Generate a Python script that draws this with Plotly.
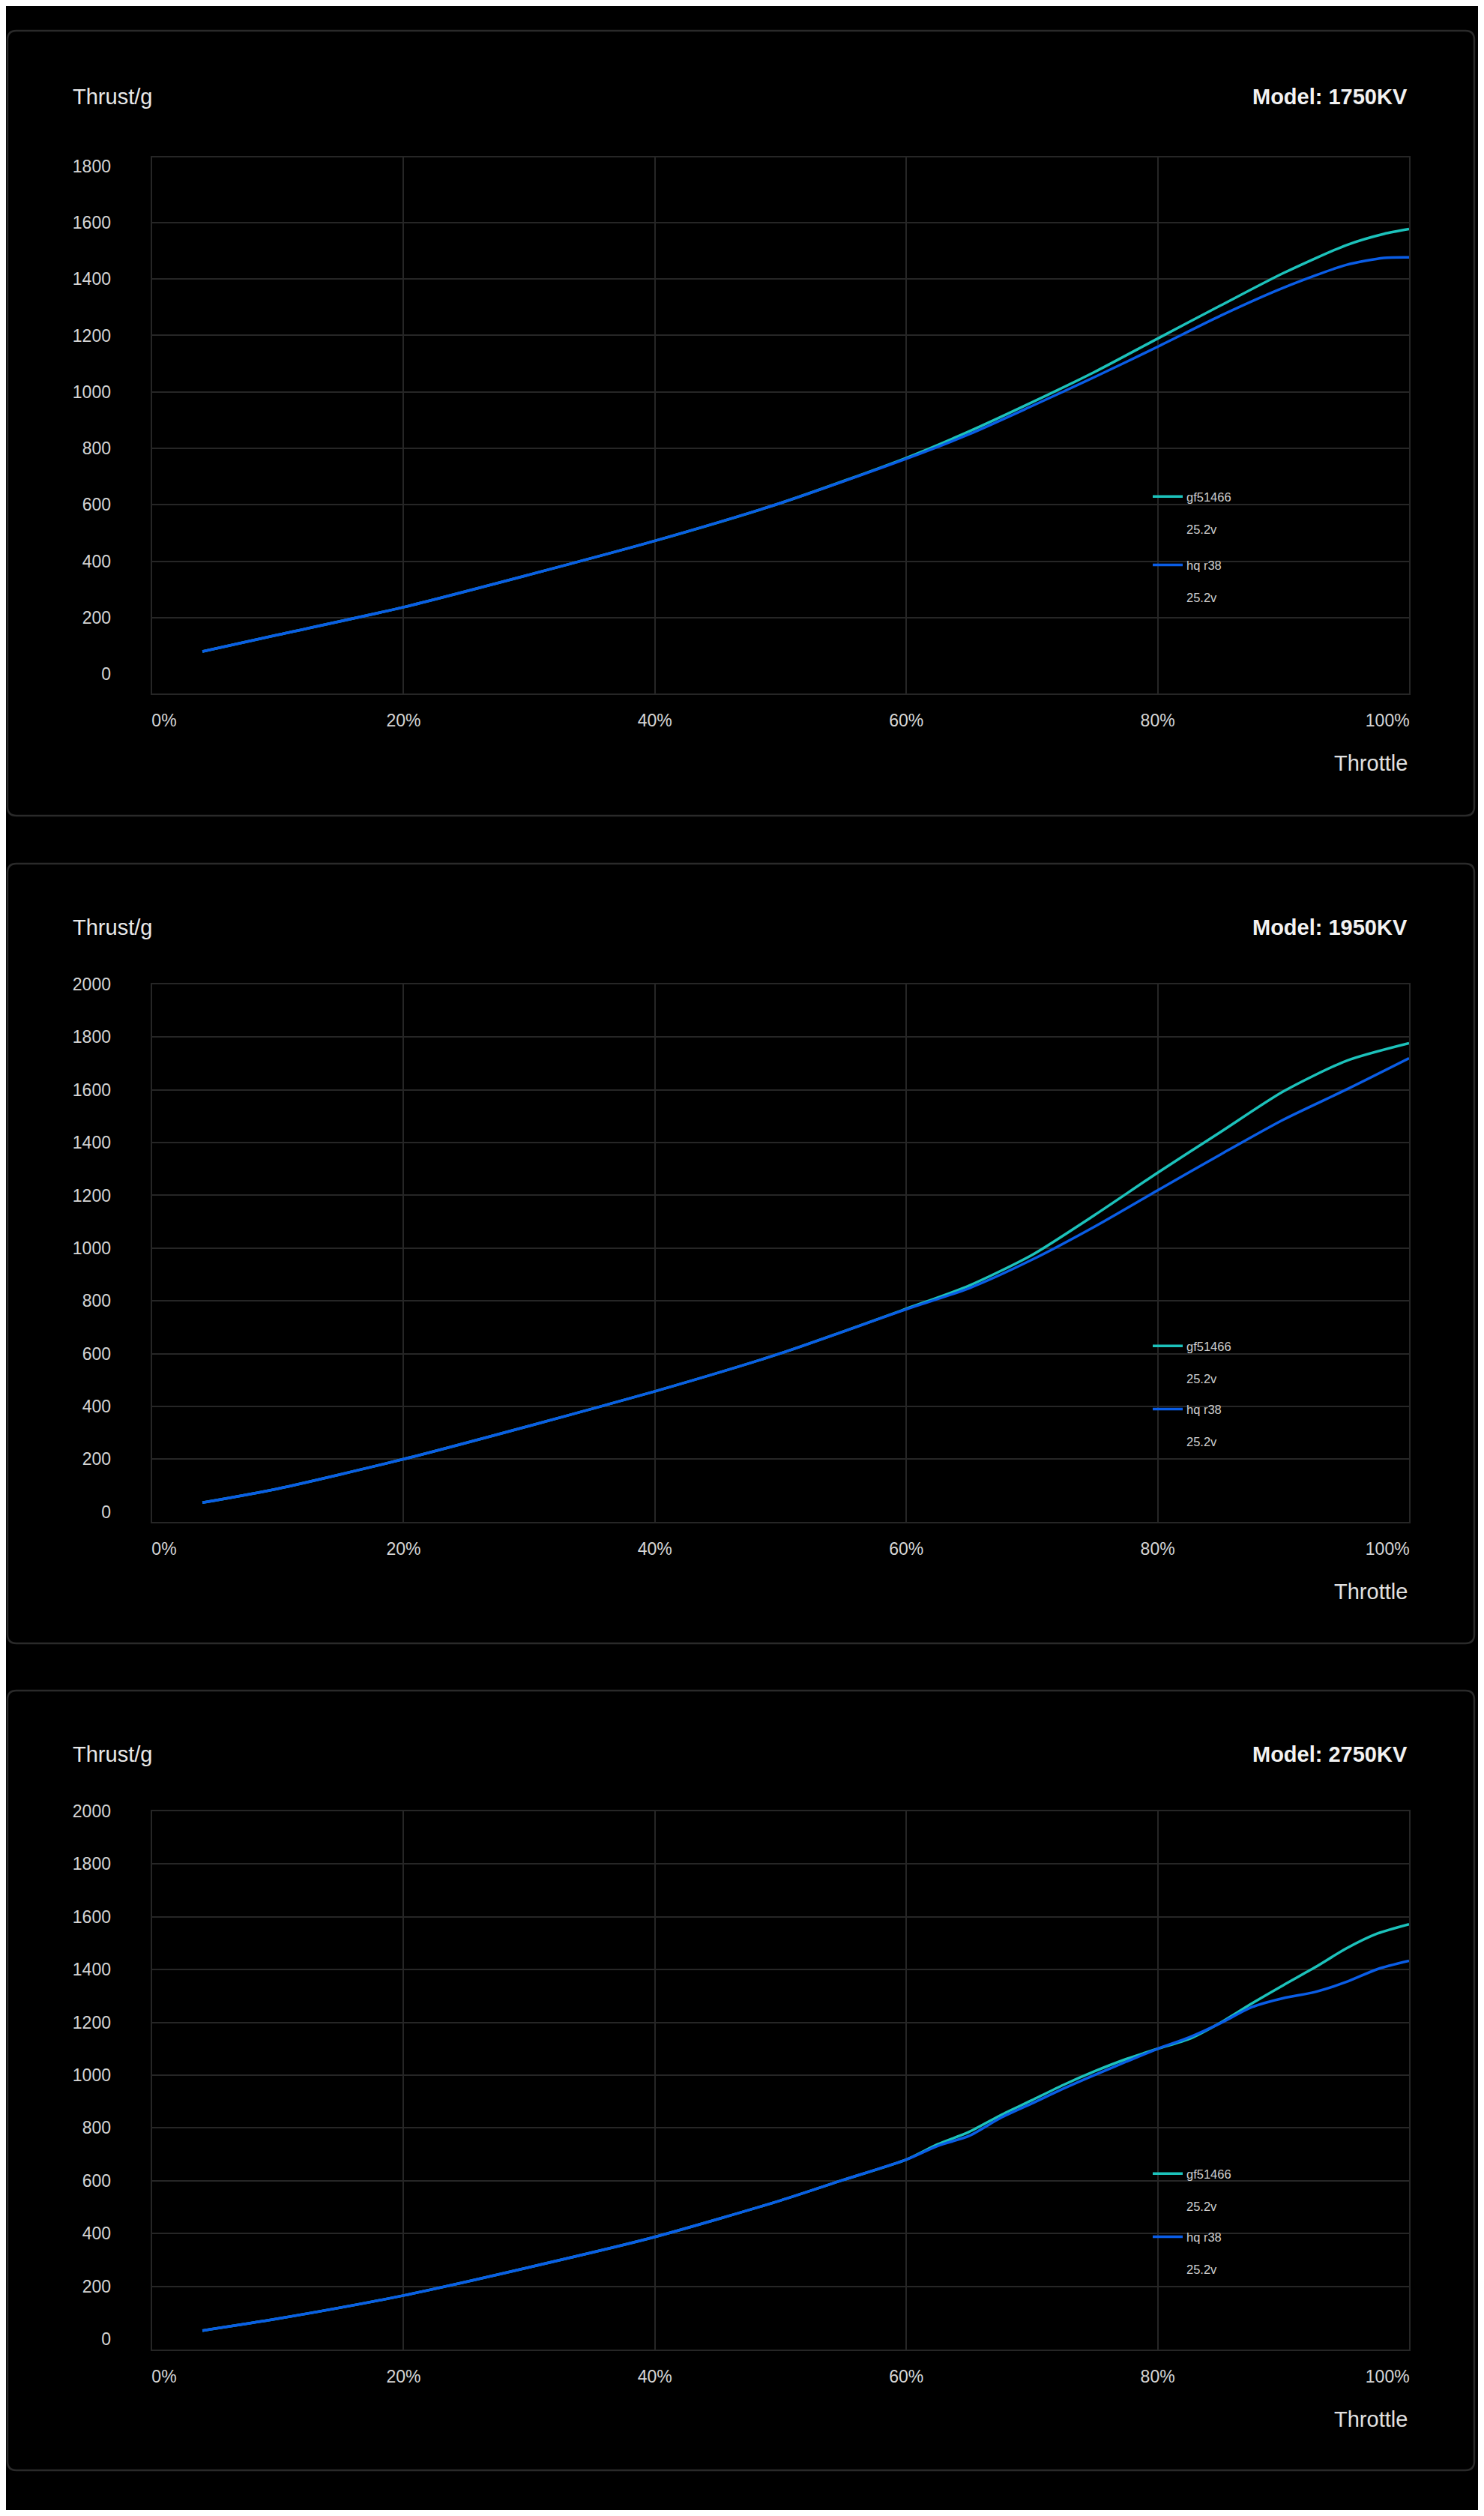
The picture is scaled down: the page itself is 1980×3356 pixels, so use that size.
import plotly.graph_objects as go

# DATA (thrust in grams against throttle in percent)
models = ['1750KV', '1950KV', '2750KV']
series_names = ['gf51466', 'hq r38']
voltage = '25.2v'

throttle_1750 = [4, 10, 20, 30, 40, 50, 60, 65, 70, 75, 80, 85, 90, 95, 98, 100]
gf_1750 = [80, 139, 237, 352, 472, 606, 766, 860, 963, 1071, 1189, 1306, 1421, 1520, 1560, 1577]
hq_1750 = [80, 139, 237, 352, 472, 606, 763, 850, 950, 1053, 1160, 1270, 1369, 1450, 1475, 1477]

throttle_1950 = [4, 10, 20, 30, 40, 50, 60, 65, 70, 75, 80, 85, 90, 95, 100]
gf_1950 = [35, 88, 200, 326, 457, 601, 770, 858, 974, 1126, 1286, 1440, 1594, 1710, 1777]
hq_1950 = [35, 88, 200, 326, 457, 601, 768, 848, 956, 1082, 1219, 1355, 1487, 1601, 1720]

throttle_2750 = [4, 10, 20, 30, 40, 50, 55, 60, 62.5, 65, 67.5, 70, 72.5, 75, 77.5,
                 80, 82.5, 85, 87.5, 90, 92.5, 95, 97.5, 100]
gf_2750 = [32, 77, 165, 272, 387, 525, 603, 680, 738, 785, 848, 905, 963, 1015, 1061,
           1100, 1137, 1199, 1272, 1341, 1408, 1480, 1537, 1572]
hq_2750 = [32, 77, 165, 272, 387, 525, 603, 680, 732, 770, 838, 893, 949, 1001, 1051,
           1100, 1143, 1197, 1258, 1292, 1315, 1353, 1402, 1433]

x_tickvals = [0, 20, 40, 60, 80, 100]
x_ticktext = ['0%', '20%', '40%', '60%', '80%', '100%']
y_max_labels = [1800, 2000, 2000]
y_ranges = [[-69, 1831], [-38, 2000], [-40, 2000]]

panel_x = [throttle_1750, throttle_1950, throttle_2750]
panel_y = [[gf_1750, hq_1750], [gf_1950, hq_1950], [gf_2750, hq_2750]]

# LAYOUT CONSTANTS (pixels of the 1980 x 3356 page; the page body adds an 8px margin)
OFF = 8
W, H = 1972, 3340
PLOT_L, PLOT_R = 203, 1880
plot_tb = [(210, 925), (1313, 2030), (2416, 3134)]
box_tb = [(41, 1088), (1152, 2192), (2255, 3295)]
BOX_L, BOX_R = 10, 1967
title_off = [-81, -76, -76]
legend_top = [661, 1794, 2898]
legend_gap = [24, 17, 17]

colors = ['#1cc2bb', '#0a5de6']
GRID = '#262626'
FONT = 'Liberation Sans, Arial, sans-serif'
NB = '\u00a0'


def px2x(p):
    return (p - OFF) / W


def px2y(p):
    return 1 - (p - OFF) / H


def rounded_box(x0, y0, x1, y1, r):
    pts = [('M', x0 + r, y0), ('L', x1 - r, y0), ('Q', x1, y0, x1, y0 + r),
           ('L', x1, y1 - r), ('Q', x1, y1, x1 - r, y1), ('L', x0 + r, y1),
           ('Q', x0, y1, x0, y1 - r), ('L', x0, y0 + r), ('Q', x0, y0, x0 + r, y0)]
    out = ''
    for p in pts:
        cmd, coords = p[0], p[1:]
        xy = []
        for i in range(0, len(coords), 2):
            xy.append('%.5f,%.5f' % (px2x(coords[i]), px2y(coords[i + 1])))
        out += cmd + ' '.join(xy) + ' '
    return out + 'Z'


# padded x labels so 0% starts at the left edge and 100% ends at the right edge
x_labels = list(x_ticktext)
x_labels[0] = NB * 5 + x_labels[0]
x_labels[-1] = x_labels[-1] + NB * 9

fig = go.Figure()

layout = dict(width=W, height=H, margin=dict(l=0, r=0, t=0, b=0, autoexpand=False),
              paper_bgcolor='#000000', plot_bgcolor='#000000',
              font=dict(family=FONT, color='#d6d6d6'),
              showlegend=True, shapes=[], annotations=[])

for i in range(3):
    sfx = '' if i == 0 else str(i + 1)
    lbl = str(i + 4)
    top, bottom = plot_tb[i]
    leg = 'legend' + sfx

    # CREATE LINES (gf on the grid axis, hq on the labelled axis laid over it)
    for k, yref in enumerate(['y' + sfx, 'y' + lbl]):
        fig.add_trace(go.Scatter(
            x=panel_x[i], y=panel_y[i][k], mode='lines',
            name=series_names[k] + '<br><br>' + voltage,
            legend=leg, legendgroup=leg + str(k),
            line=dict(color=colors[k], width=3.5, shape='spline', smoothing=0.7),
            xaxis='x' + sfx, yaxis=yref,
            hovertemplate='%{x}%: %{y} g<extra>' + series_names[k] + '</extra>'))

    domain_y = [px2y(bottom), px2y(top)]
    layout['xaxis' + sfx] = dict(
        domain=[px2x(PLOT_L), px2x(PLOT_R)], anchor='y' + sfx, range=[0, 100],
        tickmode='array', tickvals=x_tickvals, ticktext=x_labels,
        tickfont=dict(size=23, color='#d6d6d6'), ticklabelstandoff=14,
        showgrid=True, gridcolor=GRID, gridwidth=2, zeroline=False, automargin=False,
        showline=True, mirror=True, linecolor=GRID, linewidth=2, fixedrange=True)

    grid_vals = list(range(200, y_max_labels[i] - 199, 200))
    if i == 0:
        grid_vals = list(range(200, 1601, 200))
    layout['yaxis' + sfx] = dict(
        domain=domain_y, anchor='x' + sfx, range=y_ranges[i],
        tickmode='array', tickvals=grid_vals, showticklabels=False,
        showgrid=True, gridcolor=GRID, gridwidth=2, zeroline=False, automargin=False,
        showline=True, mirror=True, linecolor=GRID, linewidth=2, fixedrange=True)

    # LABEL AXIS (no grid, so there is no line at 0)
    label_vals = list(range(0, y_max_labels[i] + 1, 200))
    layout['yaxis' + lbl] = dict(
        overlaying='y' + sfx, anchor='x' + sfx, side='left', range=y_ranges[i],
        tickmode='array', tickvals=label_vals, ticktext=[str(v) for v in label_vals],
        tickfont=dict(size=23, color='#d6d6d6'), ticklabelstandoff=54,
        showgrid=False, zeroline=False, showline=False, automargin=False,
        fixedrange=True)

    # LEGEND
    layout[leg] = dict(
        x=px2x(1533), y=px2y(legend_top[i] - 16), xanchor='left', yanchor='top',
        bgcolor='rgba(0,0,0,0)', valign='top', traceorder='grouped',
        itemwidth=40, tracegroupgap=legend_gap[i], font=dict(size=16.5, color='#cfcfcf'))

    # PANEL FRAME
    b0, b1 = box_tb[i]
    layout['shapes'].append(dict(
        type='path', xref='paper', yref='paper', layer='below',
        path=rounded_box(BOX_L, b0, BOX_R, b1, 12),
        line=dict(color='#2a2a2a', width=2.5), fillcolor='rgba(0,0,0,0)'))

    # TEXTS
    layout['annotations'] += [
        dict(text='Thrust/g', x=px2x(95), y=px2y(top + title_off[i]),
             xref='paper', yref='paper', xanchor='left', yanchor='middle',
             showarrow=False, font=dict(size=29, color='#e8e8e8')),
        dict(text='<b>Model: ' + models[i] + '</b>', x=px2x(PLOT_R),
             y=px2y(top + title_off[i]), xref='paper', yref='paper',
             xanchor='right', yanchor='middle', showarrow=False,
             font=dict(size=29, color='#f2f2f2')),
        dict(text='Throttle', x=px2x(PLOT_R), y=px2y(bottom + 93),
             xref='paper', yref='paper', xanchor='right', yanchor='middle',
             showarrow=False, font=dict(size=29, color='#e0e0e0')),
    ]

fig.update_layout(**layout)

fig.write_html('out.html')
